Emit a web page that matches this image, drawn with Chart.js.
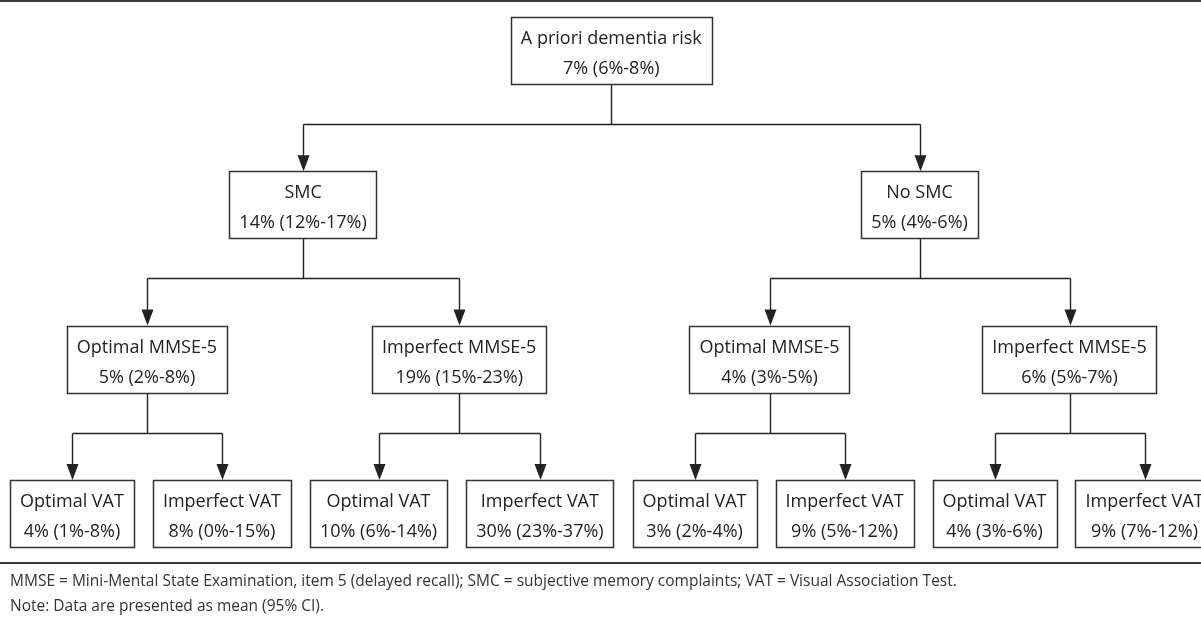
<!DOCTYPE html>
<html>
<head>
<meta charset="utf-8">
<script src="https://cdn.jsdelivr.net/npm/chart.js@4.4.1/dist/chart.umd.min.js"></script>
<style>
  html, body { margin: 0; padding: 0; background: #fff; }
  #wrap { width: 1201px; height: 631px; }
</style>
</head>
<body>
<div id="wrap"><canvas id="tree"></canvas></div>
<script>
// tree nodes, in order; parentIndex links each node to its parent
const nodeNames = [
  "A priori dementia risk",
  "SMC", "No SMC",
  "Optimal MMSE-5", "Imperfect MMSE-5", "Optimal MMSE-5", "Imperfect MMSE-5",
  "Optimal VAT", "Imperfect VAT", "Optimal VAT", "Imperfect VAT",
  "Optimal VAT", "Imperfect VAT", "Optimal VAT", "Imperfect VAT"
];
const parentIndex = [-1, 0, 0, 1, 1, 2, 2, 3, 3, 4, 4, 5, 5, 6, 6];
const riskMean = [7, 14, 5, 5, 19, 4, 6, 4, 8, 10, 30, 3, 9, 4, 9];
const ciLow    = [6, 12, 4, 2, 15, 3, 5, 1, 0, 6, 23, 2, 5, 3, 7];
const ciHigh   = [8, 17, 6, 8, 23, 5, 7, 8, 15, 14, 37, 4, 12, 6, 12];
const footnotes = [
  "MMSE = Mini-Mental State Examination, item 5 (delayed recall); SMC = subjective memory complaints; VAT = Visual Association Test.",
  "Note: Data are presented as mean (95% CI)."
];

const W = 1201, H = 631;
const BOX_FONT = '18px "Open Sans"';
const NOTE_FONT = '15.5px "Open Sans"';
const BOX_PAD = 10, BOX_H = 67, LEAF_GAP = 19, LEFT = 10;
const TOP = 17, LEVEL_PX = 154.3, BAR_DROP = 40;
const INK = "#222";

const valueLabel = i => riskMean[i] + "% (" + ciLow[i] + "%-" + ciHigh[i] + "%)";

// layout: measure box widths, place leaves left to right, centre parents over children
const mctx = document.createElement("canvas").getContext("2d");
mctx.font = BOX_FONT;
const boxW = nodeNames.map((n, i) =>
  Math.max(mctx.measureText(n).width, mctx.measureText(valueLabel(i)).width) + 2 * BOX_PAD);
const children = nodeNames.map(() => []);
parentIndex.forEach((p, i) => { if (p >= 0) children[p].push(i); });
const depth = parentIndex.map(function d(p) { return p < 0 ? 0 : 1 + d(parentIndex[p]); });
const centreX = new Array(nodeNames.length);
let cursor = LEFT;
(function place(i) {
  if (children[i].length === 0) {
    centreX[i] = cursor + boxW[i] / 2;
    cursor += boxW[i] + LEAF_GAP;
    return;
  }
  children[i].forEach(place);
  const c = children[i];
  centreX[i] = (centreX[c[0]] + centreX[c[c.length - 1]]) / 2;
})(0);

const points = nodeNames.map((n, i) => ({ x: centreX[i], y: depth[i] }));

const treePlugin = {
  id: "tree",
  afterDatasetsDraw(chart) {
    const ctx = chart.ctx;
    const xs = chart.scales.x, ys = chart.scales.y;
    const px = i => xs.getPixelForValue(points[i].x);
    const top = i => ys.getPixelForValue(points[i].y);
    ctx.save();

    // rules
    ctx.fillStyle = "#3a3a3a";
    ctx.fillRect(0, 0, W, 2);
    ctx.fillRect(0, 562, W, 2);

    // connectors
    ctx.strokeStyle = INK;
    ctx.fillStyle = INK;
    ctx.lineWidth = 1.4;
    nodeNames.forEach((n, i) => {
      const c = children[i];
      if (!c.length) return;
      const x = Math.round(px(i)) + 0.5;
      const yb = top(i) + BOX_H;
      const bar = Math.round(yb + BAR_DROP) + 0.5;
      ctx.beginPath();
      ctx.moveTo(x, yb);
      ctx.lineTo(x, bar);
      ctx.moveTo(Math.round(px(c[0])) + 0.5, bar);
      ctx.lineTo(Math.round(px(c[c.length - 1])) + 0.5, bar);
      c.forEach(k => {
        const kx = Math.round(px(k)) + 0.5;
        ctx.moveTo(kx, bar);
        ctx.lineTo(kx, top(k) - 14);
      });
      ctx.stroke();
      c.forEach(k => {
        const kx = Math.round(px(k)) + 0.5;
        const ky = top(k);
        ctx.beginPath();
        ctx.moveTo(kx - 6, ky - 16);
        ctx.lineTo(kx + 6, ky - 16);
        ctx.lineTo(kx, ky);
        ctx.closePath();
        ctx.fill();
      });
    });

    // boxes
    ctx.font = BOX_FONT;
    ctx.textAlign = "center";
    ctx.textBaseline = "middle";
    nodeNames.forEach((n, i) => {
      const x0 = Math.round(px(i) - boxW[i] / 2) + 0.5;
      const y0 = Math.round(top(i)) + 0.5;
      ctx.fillStyle = "#fff";
      ctx.fillRect(x0, y0, boxW[i], BOX_H);
      ctx.strokeStyle = "#333";
      ctx.lineWidth = 1.5;
      ctx.strokeRect(x0, y0, Math.round(boxW[i]), BOX_H);
      ctx.fillStyle = INK;
      ctx.fillText(n, px(i), y0 + 21);
      ctx.fillText(valueLabel(i), px(i), y0 + 51);
    });

    // footnotes
    ctx.font = NOTE_FONT;
    ctx.textAlign = "left";
    ctx.fillStyle = "#333";
    footnotes.forEach((t, k) => ctx.fillText(t, 10, 582 + k * 25));
    ctx.restore();
  }
};

new Chart(document.getElementById("tree"), {
  type: "scatter",
  data: {
    datasets: [{ data: points, pointRadius: 0, showLine: false }]
  },
  options: {
    responsive: true,
    maintainAspectRatio: false,
    animation: false,
    events: [],
    layout: { padding: 0 },
    plugins: { legend: { display: false }, tooltip: { enabled: false } },
    scales: {
      x: { type: "linear", display: false, min: 0, max: W },
      y: { type: "linear", display: false, reverse: true,
           min: -TOP / LEVEL_PX, max: (H - TOP) / LEVEL_PX }
    }
  },
  plugins: [treePlugin]
});
</script>
</body>
</html>
